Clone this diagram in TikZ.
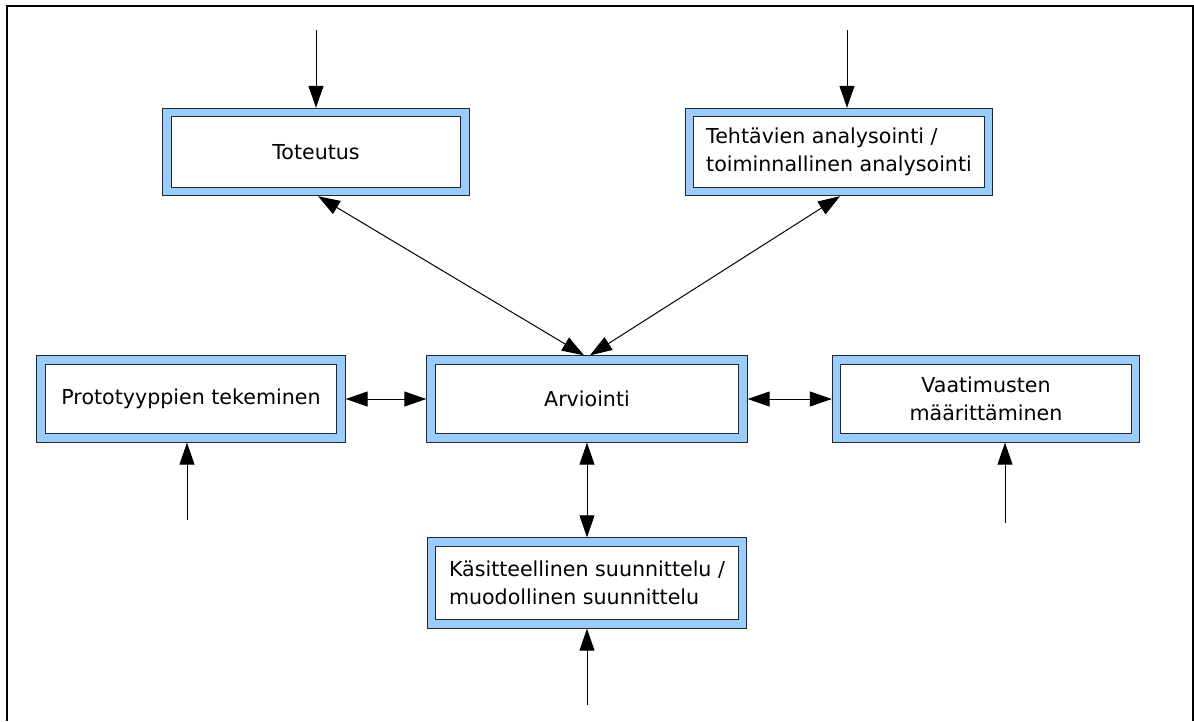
\documentclass[tikz,border=0pt]{standalone}
\usepackage{fontspec}
\setmainfont{DejaVu Sans}
\usetikzlibrary{arrows.meta}
\definecolor{boxblue}{RGB}{153,204,255}

\begin{document}
\begin{tikzpicture}[x=1pt,y=-1pt,
	stage/.style={draw=black!85, line width=1pt, double=boxblue, double distance=7.4pt,
		fill=white, inner sep=0pt, outer sep=4.7pt, font=\fontsize{20.6}{28}\selectfont},
	flow/.style={line width=1pt, -{Triangle[length=22pt,width=15pt]}},
	both/.style={line width=1pt, {Triangle[length=22pt,width=15pt]}-{Triangle[length=22pt,width=15pt]}}]

	\useasboundingbox (0,0) rectangle (1194,721);
	\draw[line width=2pt] (7,721) -- (7,6) -- (1193,6) -- (1193,721);

	\node[stage, minimum width=298pt, minimum height=79pt] (tot) at (316,152) {Toteutus};
	\node[stage, minimum width=299pt, minimum height=79pt, align=left] (teh) at (839,152) {Tehtävien analysointi /\\toiminnallinen analysointi};
	\node[stage, minimum width=300pt, minimum height=78pt] (proto) at (191,399) {Prototyyppien tekeminen};
	\node[stage, minimum width=312pt, minimum height=78pt] (arv) at (587,399) {Arviointi};
	\node[stage, minimum width=299pt, minimum height=78pt, align=center] (vaa) at (986,399) {Vaatimusten\\määrittäminen};
	\node[stage, minimum width=311pt, minimum height=82pt, align=left] (kas) at (587,583) {Käsitteellinen suunnittelu /\\muodollinen suunnittelu};

	\coordinate (intot) at (316,30);
	\coordinate (inteh) at (847,30);
	\coordinate (inproto) at (187,520);
	\coordinate (invaa) at (1005,523);
	\coordinate (inkas) at (587,705);

	\draw[flow] (intot) -- (tot);
	\draw[flow] (inteh) -- (inteh |- teh.north);
	\draw[flow] (inproto) -- (inproto |- proto.south);
	\draw[flow] (invaa) -- (invaa |- vaa.south);
	\draw[flow] (inkas) -- (kas);

	\draw[both] ([xshift=2pt]tot.south) -- ([xshift=-3pt]arv.north);
	\draw[both] ([xshift=1pt]teh.south) -- ([xshift=3pt]arv.north);
	\draw[both] (proto) -- (arv);
	\draw[both] (arv) -- (vaa);
	\draw[both] (arv) -- (kas);
\end{tikzpicture}
\end{document}
